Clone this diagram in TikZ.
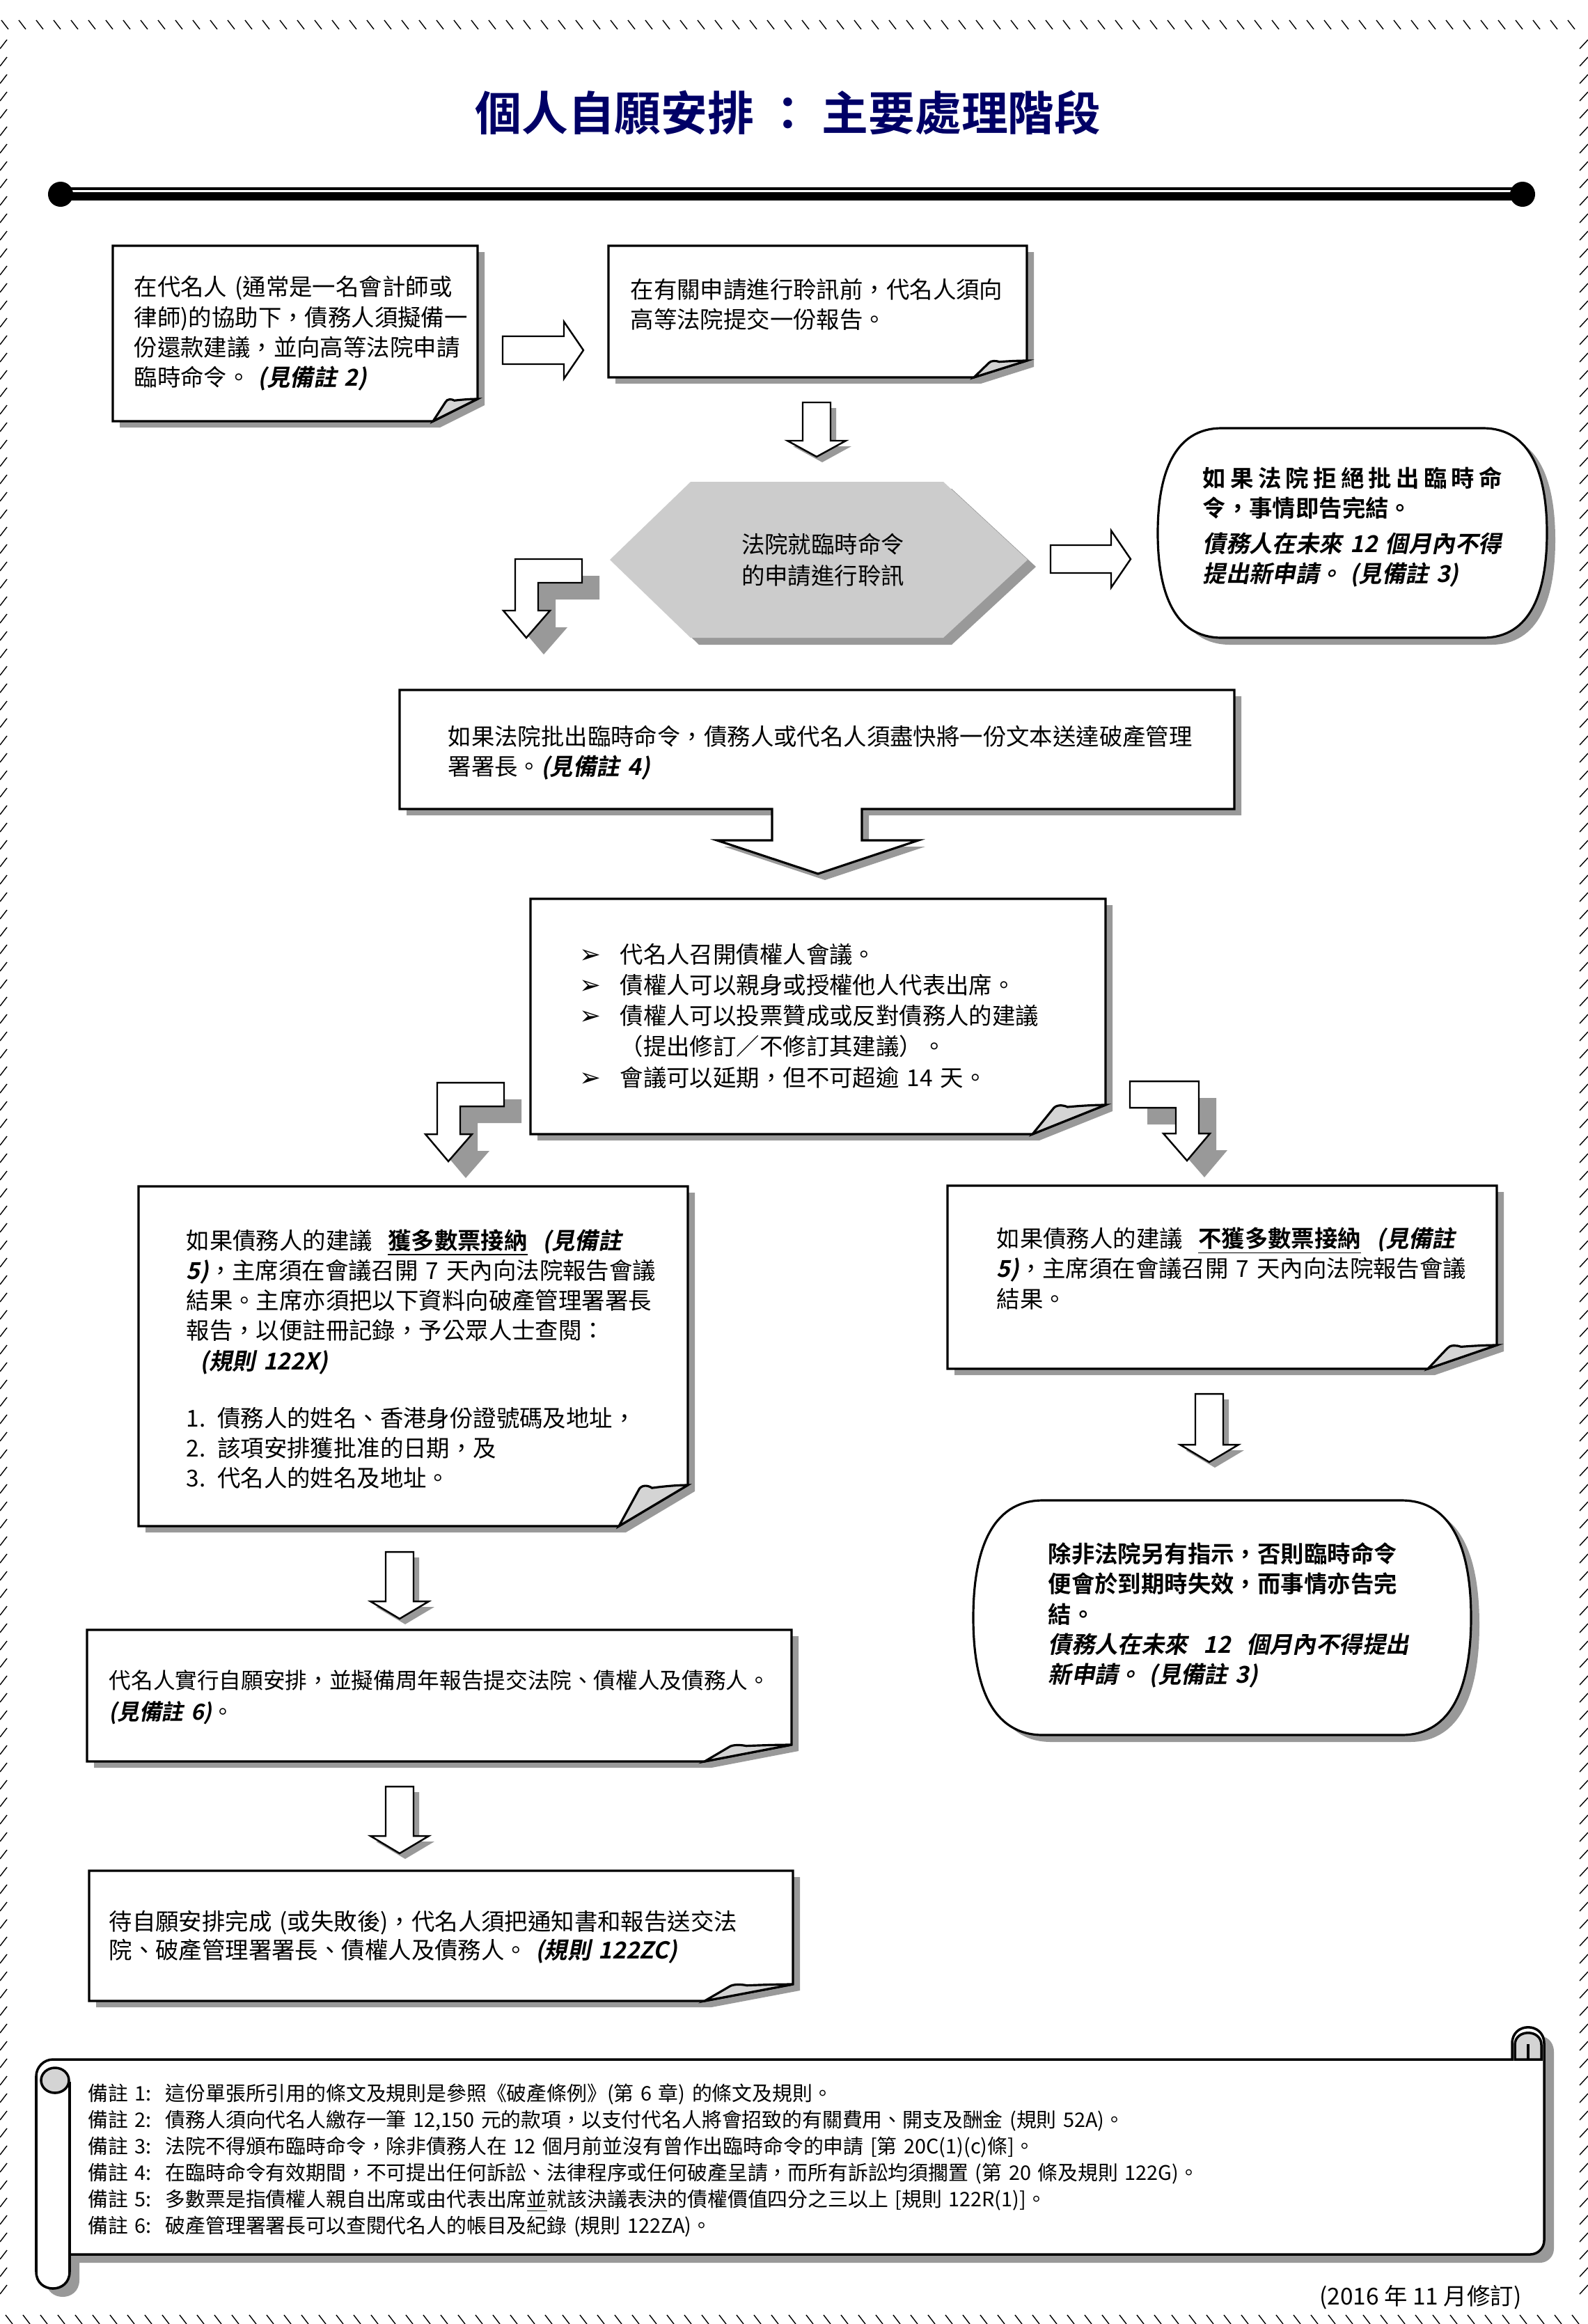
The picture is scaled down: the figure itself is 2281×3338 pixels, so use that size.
\documentclass[tikz,border=0pt]{standalone}
\usepackage{fontspec}
\setmainfont{Noto Sans CJK TC}[BoldFont={Noto Sans CJK TC Bold},
  ItalicFont={Noto Sans CJK TC}, ItalicFeatures={FakeSlant=0.2},
  BoldItalicFont={Noto Sans CJK TC Bold}, BoldItalicFeatures={FakeSlant=0.2}]
\newfontfamily\dingfont{DejaVu Sans}
\usetikzlibrary{calc}
\definecolor{titlenavy}{HTML}{000066}
\definecolor{shadowgray}{HTML}{999999}
\definecolor{hexgray}{HTML}{CCCCCC}
\definecolor{foldgray}{HTML}{D4D4D4}
\tikzset{
  boxline/.style={draw=black, line width=0.9pt, fill=white, line join=miter},
  arrowline/.style={draw=black, line width=0.7pt, fill=white, line join=miter},
  shadowfill/.style={fill=shadowgray},
  tick/.style={line width=0.4pt, black},
  txt/.style={anchor=west, inner sep=0pt, align=left,
              font=\fontsize{9.5}{12.3}\selectfont},
  titletext/.style={inner sep=0pt, font=\fontsize{19}{22}\selectfont\bfseries},
}
% shape outlines, in pixel units of the page
\newcommand\notepath[6]{(#1,#2) -- (#3,#2) -- (#3,{#4-#6}) -- ({#3-#5},#4) -- (#1,#4) -- cycle}
\newcommand\flappath[4]{({#1-#3},#2) -- ({#1-0.72*#3},{#2-0.86*#4})
  .. controls ({#1-0.68*#3},{#2-1.02*#4}) and ({#1-0.58*#3},{#2-1.0*#4}) .. ({#1-0.52*#3},{#2-0.93*#4})
  .. controls ({#1-0.35*#3},{#2-0.97*#4}) and ({#1-0.15*#3},{#2-1.0*#4}) .. (#1,{#2-#4}) -- cycle}
\newcommand\ovalpath[5]{({#1+#5},#2) -- ({#3-#5},#2)
  .. controls ({#3-0.25*#5},#2) and (#3,{#2+0.22*(#4-#2)}) .. (#3,{0.5*(#2+#4)})
  .. controls (#3,{#4-0.22*(#4-#2)}) and ({#3-0.25*#5},#4) .. ({#3-#5},#4) -- ({#1+#5},#4)
  .. controls ({#1+0.25*#5},#4) and (#1,{#4-0.22*(#4-#2)}) .. (#1,{0.5*(#2+#4)})
  .. controls (#1,{#2+0.22*(#4-#2)}) and ({#1+0.25*#5},#2) .. ({#1+#5},#2) -- cycle}
\newcommand\downpath[4]{({#1-20},#2) -- ({#1+20},#2) -- ({#1+20},#3) -- ({#1+42},#3) -- (#1,#4) -- ({#1-42},#3) -- ({#1-20},#3) -- cycle}
\newcommand\rightpath[4]{(#2,{#1-20}) -- (#3,{#1-20}) -- (#3,{#1-41}) -- (#4,#1) -- (#3,{#1+41}) -- (#3,{#1+20}) -- (#2,{#1+20}) -- cycle}
\newcommand\bentleftpath[2]{(#1,#2) -- ({#1+96},#2) -- ({#1+96},{#2+34}) -- ({#1+33},{#2+34}) -- ({#1+33},{#2+74}) -- ({#1+50},{#2+74}) -- ({#1+16},{#2+113}) -- ({#1-17},{#2+74}) -- (#1,{#2+74}) -- cycle}
\newcommand\bentrightpath[2]{(#1,#2) -- ({#1-99},#2) -- ({#1-99},{#2+38}) -- ({#1-33},{#2+38}) -- ({#1-33},{#2+75}) -- ({#1-51},{#2+75}) -- ({#1-17},{#2+114}) -- ({#1+16},{#2+75}) -- (#1,{#2+75}) -- cycle}
\newcommand\grantpath{(574,991) -- (1773,991) -- (1773,1162) -- (1238,1162) -- (1238,1207) -- (1319,1207) -- (1175,1255) -- (1030,1207) -- (1109,1207) -- (1109,1162) -- (574,1162) -- cycle}
\newcommand\hexpath{(876,804) -- (992,692) -- (1355,692) -- (1476,804) -- (1355,916) -- (992,916) -- cycle}
\newcommand\scrollpath{(76,2958) -- (2172,2958) -- (2172,2935) .. controls (2172,2904) and (2218,2904) .. (2218,2935)
  -- (2218,3218) .. controls (2218,3229) and (2209,3238) .. (2198,3238) -- (100,3238) -- (100,3263)
  .. controls (100,3295) and (52,3295) .. (52,3263) -- (52,2982) .. controls (52,2969) and (63,2958) .. (76,2958) -- cycle}
\newcommand\foldbox[6]{%
  \fill[shadowfill, shift={(10,9)}] \notepath{#1}{#2}{#3}{#4}{#5}{#6};
  \filldraw[boxline] \notepath{#1}{#2}{#3}{#4}{#5}{#6};
  \filldraw[boxline, fill=foldgray] \flappath{#3}{#4}{#5}{#6};}
\newcommand\downblock[4]{%
  \fill[shadowfill, shift={(8,8)}] \downpath{#1}{#2}{#3}{#4};
  \filldraw[arrowline] \downpath{#1}{#2}{#3}{#4};}
\newcommand\seenote[1]{\textbf{\textit{#1}}}
\newcommand\bul{\makebox[0.58cm][l]{\dingfont\fontsize{10.5}{10.5}\selectfont ➢}}
\newcommand\notelbl[1]{\makebox[1.11cm][l]{#1}}

\begin{document}
\begin{tikzpicture}[x={(0.01cm,0)}, y={(0,-0.01cm)}]
  \useasboundingbox (0,0) rectangle (2281,3338);

  % hatched page frame
  \foreach \i in {0,...,90} {
    \draw[tick] ({\i*25+2},29) -- ++(10,13);
    \draw[tick] ({\i*25+8},3325) -- ++(10,13);
  }
  \foreach \j in {0,...,129} {
    \draw[tick] (0,{\j*25+70}) -- ++(10,-13);
    \draw[tick] (2269,{\j*25+70}) -- ++(12,-13);
  }

  % title and rule
  \node[titletext, text=titlenavy] (title) at (1132,162) {個人自願安排 ： 主要處理階段};
  \draw[line width=0.035cm] (87,271) -- (2187,271);
  \draw[line width=0.115cm] (87,282) -- (2187,282);
  \fill (87,279) circle[radius=0.18cm];
  \fill (2187,279) circle[radius=0.18cm];

  % application
  \foldbox{162}{353}{686}{605}{64}{32}
  \node[txt, text width=5cm] (apply) at (192,479)
    {在代名人 (通常是一名會計師或\\律師)的協助下，債務人須擬備一\\份還款建議，並向高等法院申請\\臨時命令。 \seenote{(見備註 2)}};
  \filldraw[arrowline] \rightpath{503}{722}{810}{838};

  \foldbox{874}{353}{1475}{542}{76}{24}
  \node[txt, text width=5.6cm] (report) at (905,437)
    {在有關申請進行聆訊前，代名人須向\\高等法院提交一份報告。};
  \downblock{1173}{578}{633}{656}

  % hearing
  \fill[shadowfill, shift={(12,10)}] \hexpath;
  \fill[hexgray] \hexpath;
  \node[inner sep=0pt, align=center, font=\fontsize{9.5}{12.8}\selectfont] (hearing) at (1182,804)
    {法院就臨時命令\\的申請進行聆訊};
  \filldraw[arrowline] \rightpath{803}{1509}{1596}{1624};

  \fill[shadowfill, shift={(12,10)}] \ovalpath{1663}{615}{2222}{916}{92};
  \filldraw[boxline] \ovalpath{1663}{615}{2222}{916}{92};
  \node[txt, text width=4.3cm, font=\fontsize{9.5}{12.3}\selectfont\bfseries] (refuse) at (1727,757)
    {\makebox[4.3cm][s]{如\hfill 果\hfill 法\hfill 院\hfill 拒\hfill 絕\hfill 批\hfill 出\hfill 臨\hfill 時\hfill 命}\\
     令，事情即告完結。\\[2pt]
     \textit{債務人在未來 12 個月內不得}\\
     \textit{提出新申請。 (見備註 3)}};

  \fill[shadowfill, shift={(25,24)}] \bentleftpath{740}{803};
  \filldraw[arrowline] \bentleftpath{740}{803};

  % interim order granted
  \fill[shadowfill, shift={(10,9)}] \grantpath;
  \filldraw[boxline] \grantpath;
  \node[txt, text width=11.2cm] (grant) at (643,1081)
    {如果法院批出臨時命令，債務人或代名人須盡快將一份文本送達破產管理\\署署長。\seenote{(見備註 4)}};

  % creditors' meeting
  \foldbox{762}{1291}{1588}{1629}{105}{42}
  \node[txt, text width=7cm, font=\fontsize{9.5}{12.6}\selectfont] (meeting) at (832,1459)
    {\bul 代名人召開債權人會議。\\
     \bul 債權人可以親身或授權他人代表出席。\\
     \bul 債權人可以投票贊成或反對債務人的建議\\
     \hspace*{0.58cm}（提出修訂／不修訂其建議）。\\
     \bul 會議可以延期，但不可超逾 14 天。};

  \fill[shadowfill, shift={(25,24)}] \bentleftpath{628}{1555};
  \filldraw[arrowline] \bentleftpath{628}{1555};
  \fill[shadowfill, shift={(25,24)}] \bentrightpath{1722}{1553};
  \filldraw[arrowline] \bentrightpath{1722}{1553};

  % outcome of the vote
  \foldbox{199}{1704}{988}{2192}{99}{59}
  \node[txt, text width=7cm] (accept) at (267,1952)
    {如果債務人的建議\ \ \underline{\textbf{獲多數票接納}}\ \ \seenote{(見備註}\\
     \seenote{5)}，主席須在會議召開 7 天內向法院報告會議\\
     結果。主席亦須把以下資料向破產管理署署長\\
     報告，以便註冊記錄，予公眾人士查閱：\\
     \hspace*{0.2cm}\seenote{(規則 122X)}\\[11pt]
     1. 債務人的姓名、香港身份證號碼及地址，\\
     2. 該項安排獲批准的日期，及\\
     3. 代名人的姓名及地址。};

  \foldbox{1361}{1703}{2150}{1966}{99}{34}
  \node[txt, text width=7cm] (reject) at (1431,1822)
    {如果債務人的建議\ \ \underline{\textbf{不獲多數票接納}}\ \ \seenote{(見備註}\\
     \seenote{5)}，主席須在會議召開 7 天內向法院報告會議\\
     結果。};
  \downblock{1737}{2002}{2075}{2100}

  \fill[shadowfill, shift={(12,10)}] \ovalpath{1398}{2155}{2113}{2492}{100};
  \filldraw[boxline] \ovalpath{1398}{2155}{2113}{2492}{100};
  \node[txt, text width=5.3cm, font=\fontsize{9.5}{12.3}\selectfont\bfseries] (lapse) at (1505,2320)
    {除非法院另有指示，否則臨時命令\\便會於到期時失效，而事情亦告完\\結。\\
     \textit{債務人在未來\ \ 12\ \ 個月內不得提出}\\
     \textit{新申請。 (見備註 3)}};

  % supervision and completion
  \downblock{574}{2229}{2300}{2325}
  \foldbox{125}{2341}{1137}{2530}{125}{24}
  \node[txt, text width=9.7cm, font=\fontsize{9}{12.8}\selectfont] (carry) at (156,2438)
    {代名人實行自願安排，並擬備周年報告提交法院、債權人及債務人。\\\seenote{(見備註 6)}。};
  \downblock{574}{2566}{2637}{2662}
  \foldbox{128}{2687}{1139}{2874}{127}{24}
  \node[txt, text width=9.7cm, font=\fontsize{9.5}{11.8}\selectfont] (finish) at (156,2782)
    {待自願安排完成 (或失敗後)，代名人須把通知書和報告送交法\\院、破產管理署署長、債權人及債務人。 \seenote{(規則 122ZC)}};

  % notes scroll
  \fill[shadowfill, shift={(14,12)}] \scrollpath;
  \filldraw[boxline, line width=1pt] \scrollpath;
  \draw[line width=1pt] (100,2990) -- (100,3263);
  \filldraw[line width=1pt, fill=foldgray] (79,2988) ellipse[x radius=0.2cm, y radius=0.18cm];
  \filldraw[line width=1pt, fill=foldgray] (2176,2958) -- (2176,2937) .. controls (2176,2914) and (2214,2914) .. (2214,2937) -- (2214,2958) -- cycle;
  \draw[line width=1pt] (2195,2958) -- (2195,2936);
  \node[txt, text width=19cm, font=\fontsize{8.2}{10.8}\selectfont] (notes) at (126,3103)
    {\notelbl{備註 1:}這份單張所引用的條文及規則是參照《破產條例》(第 6 章) 的條文及規則。\\
     \notelbl{備註 2:}債務人須向代名人繳存一筆 12,150 元的款項，以支付代名人將會招致的有關費用、開支及酬金 (規則 52A)。\\
     \notelbl{備註 3:}法院不得頒布臨時命令，除非債務人在 12 個月前並沒有曾作出臨時命令的申請 [第 20C(1)(c)條]。\\
     \notelbl{備註 4:}在臨時命令有效期間，不可提出任何訴訟、法律程序或任何破產呈請，而所有訴訟均須擱置 (第 20 條及規則 122G)。\\
     \notelbl{備註 5:}多數票是指債權人親自出席或由代表出席\underline{並}就該決議表決的債權價值四分之三以上 [規則 122R(1)]。\\
     \notelbl{備註 6:}破產管理署署長可以查閱代名人的帳目及紀錄 (規則 122ZA)。};
  \node[anchor=east, inner sep=0pt, font=\fontsize{9.5}{11}\selectfont] (revised) at (2186,3300)
    {(2016 年 11 月修訂)};
\end{tikzpicture}
\end{document}
